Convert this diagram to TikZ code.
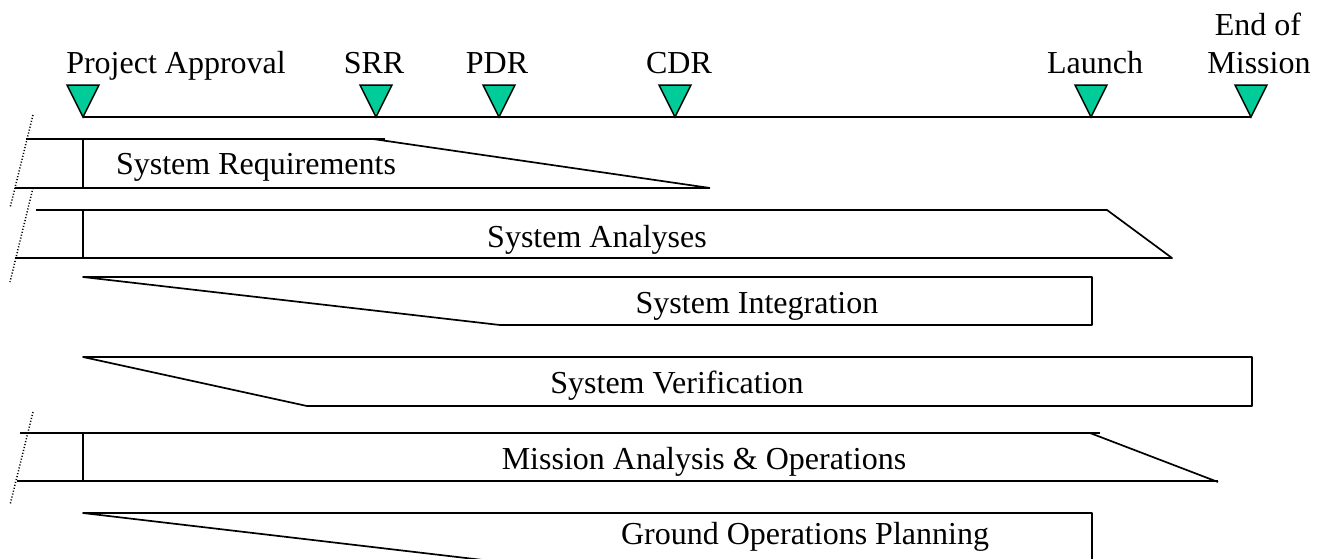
\documentclass[tikz,border=0pt]{standalone}
\usepackage{fontspec}
\setmainfont{Liberation Serif}
\definecolor{ms}{RGB}{0,204,153}
\begin{document}
\begin{tikzpicture}[x=1pt,y=-1pt,
  bar/.style={line width=1.7pt, line join=round, line cap=butt},
  lbl/.style={inner sep=0pt, anchor=base, font=\fontsize{32}{38}\selectfont},
  tri/.style={draw=black, line width=1.5pt, fill=ms, line join=miter},
  brk/.style={line width=1.5pt, dash pattern=on 1.1pt off 1.9pt}]
\useasboundingbox (0,0) rectangle (1324,558);
\clip (0,0) rectangle (1324,558);
% milestones
\foreach \x/\n in {83/pa,376/srr,499/pdr,675/cdr,1091/lau,1251/eom}
  \coordinate (m\n) at (\x,117);
\draw[line width=1.8pt] (mpa) -- (meom);
\foreach \n in {pa,srr,pdr,cdr,lau,eom}
  \draw[tri,shift={(m\n)}] (-16,-32) -- (16,-32) -- (0,0) -- cycle;
\node[lbl] (lpa) at (176,73) {Project Approval};
\node[lbl] (lsrr) at (374,73) {SRR};
\node[lbl] (lpdr) at (497,73) {PDR};
\node[lbl] (lcdr) at (679,73) {CDR};
\node[lbl] (llau) at (1095,73) {Launch};
\node[lbl] (leom1) at (1258,35) {End of};
\node[lbl] (leom2) at (1259,73) {Mission};
% break marks
\draw[brk] (33,115) -- (10,208);
\draw[brk] (33,188) -- (10,282);
\draw[brk] (33,412) -- (10,505);
% System Requirements
\draw[bar] (26,139) -- (385,139);
\draw[bar] (373,139) -- (710,188);
\draw[bar] (15,188) -- (710,188);
\draw[bar] (83,139) -- (83,188);
\node[lbl] (t1) at (256,174) {System Requirements};
% System Analyses
\draw[bar] (36,210) -- (1107,210) -- (1172,258) -- (15,258);
\draw[bar] (83,210) -- (83,258);
\node[lbl] (t2) at (597,247) {System Analyses};
% System Integration
\draw[bar] (83,277) -- (1092,277) -- (1092,325) -- (500,325) -- cycle;
\node[lbl] (t3) at (757,313) {System Integration};
% System Verification
\draw[bar] (83,357) -- (1252,357) -- (1252,406) -- (307,406) -- cycle;
\node[lbl] (t4) at (677,393) {System Verification};
% Mission Analysis & Operations
\draw[bar] (20,433) -- (1100,433);
\draw[bar] (1090,433) -- (1218,482);
\draw[bar] (17,481) -- (1218,481);
\draw[bar] (83,433) -- (83,481);
\node[lbl] (t5) at (704,469) {Mission Analysis \& Operations};
% Ground Operations Planning
\draw[bar] (83,513) -- (1092,513) -- (1092,562) -- (500,562) -- cycle;
\node[lbl] (t6) at (805,544) {Ground Operations Planning};
\end{tikzpicture}
\end{document}
